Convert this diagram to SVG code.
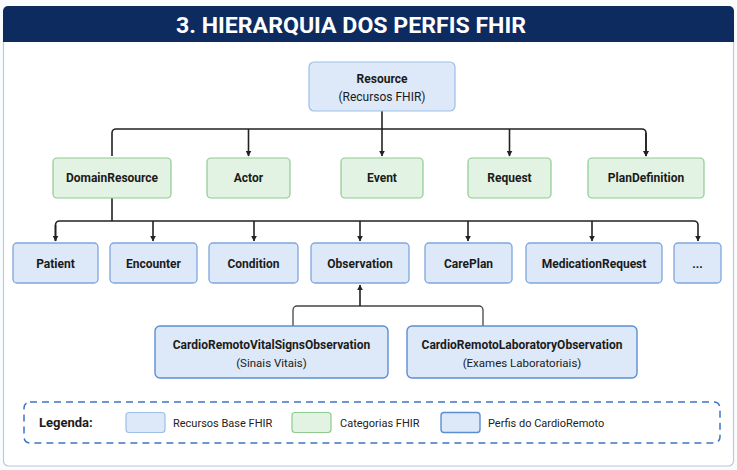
<svg xmlns="http://www.w3.org/2000/svg" width="737" height="470" viewBox="0 0 737 470">
<defs>
<style>
.t{font-family:Roboto,"Liberation Sans",sans-serif;fill:#1b1b1b;text-anchor:middle}
.b{font-weight:bold;font-size:12px}
.s{font-size:12px}
.base{fill:#dde9f8;stroke:#9dbfe8;stroke-width:1.2}
.res{fill:#dde9f8;stroke:#7ea6de;stroke-width:1.3}
.prof{fill:#dde9f8;stroke:#5c8ed2;stroke-width:1.4}
.cat{fill:#e2f3e3;stroke:#8fca92;stroke-width:1.2}
.c{fill:none;stroke:#222;stroke-width:1.6}
.lg{font-family:Roboto,"Liberation Sans",sans-serif;font-size:11px;fill:#222}
</style>
<marker id="ar" viewBox="0 0 10 10" refX="9" refY="5" markerWidth="6" markerHeight="6" markerUnits="userSpaceOnUse" orient="auto">
<path d="M0,0 L10,5 L0,10 z" fill="#222"/>
</marker>
</defs>
<rect width="737" height="470" fill="#fafbfd"/>
<rect x="3.5" y="20" width="730" height="446" rx="5" fill="#ffffff" stroke="#bccadd" stroke-width="1.2"/>
<path d="M3 42 V11 a5 5 0 0 1 5 -5 H729 a5 5 0 0 1 5 5 V42 z" fill="#0d2b5e"/>
<text x="351" y="33" font-family="Roboto,'Liberation Sans',sans-serif" font-weight="bold" font-size="22.5" fill="#ffffff" text-anchor="middle" textLength="350" lengthAdjust="spacingAndGlyphs">3. HIERARQUIA DOS PERFIS FHIR</text>

<g id="connectors">
<path class="c" d="M382 111 V156" marker-end="url(#ar)"/>
<path class="c" d="M112 156 V133 a4 4 0 0 1 4 -4 H642 a4 4 0 0 1 4 4 V156" marker-end="url(#ar)"/>
<path class="c" d="M646 133 V156" marker-end="url(#ar)"/>
<path class="c" d="M248.5 129 V156" marker-end="url(#ar)"/>
<path class="c" d="M509.5 129 V156" marker-end="url(#ar)"/>
<path class="c" d="M112 198 V221"/>
<path class="c" d="M55.5 241 V225 a4 4 0 0 1 4 -4 H694 a4 4 0 0 1 4 4 V241" marker-end="url(#ar)"/>
<path class="c" d="M55.5 225 V241" marker-end="url(#ar)"/>
<path class="c" d="M153 221 V241" marker-end="url(#ar)"/>
<path class="c" d="M254 221 V241" marker-end="url(#ar)"/>
<path class="c" d="M360 221 V241" marker-end="url(#ar)"/>
<path class="c" d="M468 221 V241" marker-end="url(#ar)"/>
<path class="c" d="M592 221 V241" marker-end="url(#ar)"/>
<path class="c" d="M293 326 V310 a4 4 0 0 1 4 -4 H479 a4 4 0 0 1 4 4 V326" style="stroke:#444;stroke-width:1.3"/>
<path class="c" d="M360 306 V285" marker-end="url(#ar)"/>
</g>

<g id="resource"><rect class="base" x="309" y="62" width="146" height="49" rx="5"/><text class="t b" x="382" y="83">Resource</text><text class="t s" x="382" y="101">(Recursos FHIR)</text></g>

<g id="domainresource"><rect class="cat" x="53" y="158" width="118" height="40" rx="4"/><text class="t b" x="112" y="182">DomainResource</text></g>
<g id="actor"><rect class="cat" x="207" y="158" width="83" height="40" rx="4"/><text class="t b" x="248.5" y="182">Actor</text></g>
<g id="event"><rect class="cat" x="341" y="158" width="82" height="40" rx="4"/><text class="t b" x="382" y="182">Event</text></g>
<g id="request"><rect class="cat" x="468" y="158" width="83" height="40" rx="4"/><text class="t b" x="509.5" y="182">Request</text></g>
<g id="plandefinition"><rect class="cat" x="588" y="158" width="116" height="40" rx="4"/><text class="t b" x="646" y="182">PlanDefinition</text></g>

<g id="patient"><rect class="res" x="13" y="243" width="85" height="40" rx="4"/><text class="t b" x="55.5" y="268">Patient</text></g>
<g id="encounter"><rect class="res" x="110" y="243" width="87" height="40" rx="4"/><text class="t b" x="153.5" y="268">Encounter</text></g>
<g id="condition"><rect class="res" x="209" y="243" width="89" height="40" rx="4"/><text class="t b" x="253.5" y="268">Condition</text></g>
<g id="observation"><rect class="res" x="311" y="243" width="98" height="40" rx="4"/><text class="t b" x="360" y="268">Observation</text></g>
<g id="careplan"><rect class="res" x="425" y="243" width="87" height="40" rx="4"/><text class="t b" x="468.5" y="268">CarePlan</text></g>
<g id="medicationrequest"><rect class="res" x="526" y="243" width="136" height="40" rx="4"/><text class="t b" x="594" y="268">MedicationRequest</text></g>
<g id="more"><rect class="res" x="674" y="243" width="47" height="40" rx="4"/><text class="t b" x="697.5" y="268">...</text></g>

<g id="vitalsigns"><rect class="prof" x="155" y="326" width="233" height="52" rx="5"/><text class="t b" x="271.5" y="349">CardioRemotoVitalSignsObservation</text><text class="t s" x="271.5" y="367" style="font-size:11.5px">(Sinais Vitais)</text></g>
<g id="laboratory"><rect class="prof" x="407" y="326" width="230" height="52" rx="5"/><text class="t b" x="522" y="349">CardioRemotoLaboratoryObservation</text><text class="t s" x="522" y="367" style="font-size:11.5px">(Exames Laboratoriais)</text></g>

<g id="legend">
<rect x="24" y="402" width="696" height="41" rx="6" fill="none" stroke="#3f74c4" stroke-width="1.5" stroke-dasharray="7 5"/>
<text x="39" y="427" font-family="Roboto,'Liberation Sans',sans-serif" font-weight="bold" font-size="13" fill="#1b1b1b">Legenda:</text>
<rect class="base" x="126" y="412.5" width="39" height="20" rx="3"/>
<text class="lg" x="173" y="426.5">Recursos Base FHIR</text>
<rect class="cat" x="292" y="412.5" width="39" height="20" rx="3"/>
<text class="lg" x="340" y="426.5">Categorias FHIR</text>
<rect class="prof" x="441" y="412.5" width="39" height="20" rx="3"/>
<text class="lg" x="488" y="426.5">Perfis do CardioRemoto</text>
</g>
</svg>
